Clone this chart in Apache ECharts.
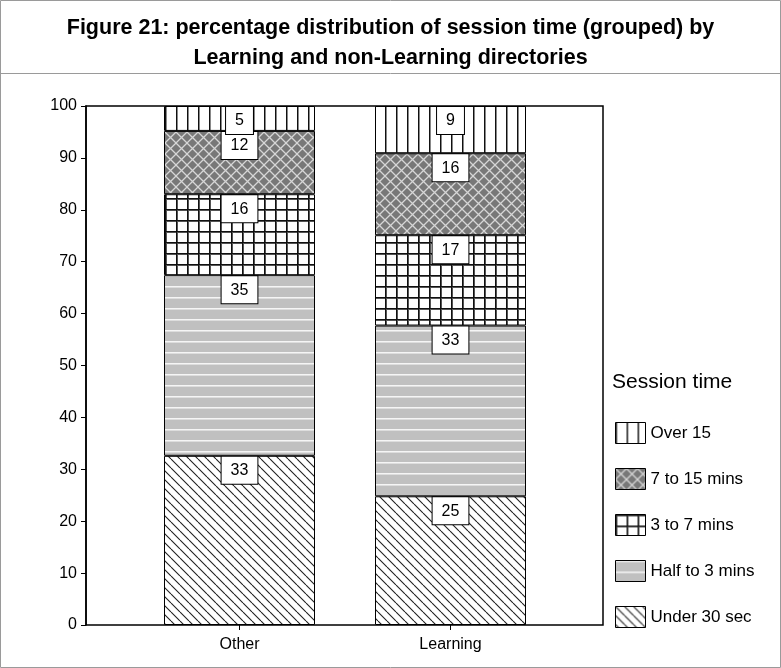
<!DOCTYPE html>
<html>
<head>
<meta charset="utf-8">
<script src="https://cdn.jsdelivr.net/npm/echarts@6/dist/echarts.min.js"></script>
<style>
html,body{margin:0;padding:0;background:#fff;}
#chart{width:781px;height:668px;}
</style>
</head>
<body>
<div id="chart"></div>
<script>
// ---- data ----
const categories = ['Other', 'Learning'];
const seriesNames = ['Under 30 sec', 'Half to 3 mins', '3 to 7 mins', '7 to 15 mins', 'Over 15'];
const under30 = [32.6, 24.8];
const halfTo3 = [34.8, 32.9];
const threeTo7 = [15.6, 17.4];
const sevenTo15 = [12.2, 15.8];
const over15 = [4.8, 9.1];
const yTicks = [0, 100, 10]; // min, max, interval

const FONT = '"Liberation Sans", Arial, sans-serif';

function makePattern(w, h, draw) {
  const c = document.createElement('canvas');
  c.width = w; c.height = h;
  const ctx = c.getContext('2d');
  draw(ctx, w, h);
  return { image: c, repeat: 'repeat' };
}
const patVertical = makePattern(11, 4, (ctx, w, h) => {
  ctx.fillStyle = '#fff'; ctx.fillRect(0, 0, w, h);
  ctx.fillStyle = '#111'; ctx.fillRect(0, 0, 1, h);
  ctx.fillStyle = '#888'; ctx.fillRect(1, 0, 1, h);
});
const patDiamond = makePattern(11, 11, (ctx, w, h) => {
  ctx.fillStyle = '#787878'; ctx.fillRect(0, 0, w, h);
  ctx.strokeStyle = '#d6d6d6'; ctx.lineWidth = 1.3;
  ctx.beginPath();
  ctx.moveTo(0, 0); ctx.lineTo(w, h);
  ctx.moveTo(w, 0); ctx.lineTo(0, h);
  ctx.stroke();
});
const patGrid = makePattern(11, 11, (ctx, w, h) => {
  ctx.fillStyle = '#fff'; ctx.fillRect(0, 0, w, h);
  ctx.fillStyle = '#555'; ctx.fillRect(1, 0, 1, h); ctx.fillRect(0, 1, w, 1);
  ctx.fillStyle = '#111'; ctx.fillRect(0, 0, 1, h); ctx.fillRect(0, 0, w, 1);
});
const patHoriz = makePattern(4, 11, (ctx, w, h) => {
  ctx.fillStyle = '#c0c0c0'; ctx.fillRect(0, 0, w, h);
  ctx.fillStyle = '#f5f5f5'; ctx.fillRect(0, 0, w, 1);
  ctx.fillStyle = '#dddddd'; ctx.fillRect(0, 1, w, 1);
});
const patDiag = makePattern(9, 9, (ctx, w, h) => {
  ctx.fillStyle = '#fff'; ctx.fillRect(0, 0, w, h);
  ctx.strokeStyle = '#222'; ctx.lineWidth = 1.1;
  ctx.beginPath();
  for (let k = -2; k <= 2; k++) { ctx.moveTo(k * w, 0); ctx.lineTo(k * w + w, h); }
  ctx.stroke();
});

const seriesData = [under30, halfTo3, threeTo7, sevenTo15, over15];
const patterns = [patDiag, patHoriz, patGrid, patDiamond, patVertical];

const chart = echarts.init(document.getElementById('chart'), null, { renderer: 'canvas' });

const series = seriesNames.map((name, i) => ({
  name: name,
  type: 'bar',
  stack: 'total',
  xAxisIndex: 1,
  yAxisIndex: 1,
  barWidth: 151,
  data: seriesData[i],
  itemStyle: { color: patterns[i], borderColor: '#000', borderWidth: 1 },
  emphasis: { disabled: true },
  label: {
    show: true,
    position: 'insideTop',
    distance: 1,
    formatter: p => String(Math.round(p.value)),
    backgroundColor: '#fff',
    borderColor: '#000',
    borderWidth: 1,
    padding: [6, 9, 5, 9],
    fontSize: 16,
    fontFamily: FONT,
    color: '#000'
  }
}));

chart.setOption({
  animation: false,
  backgroundColor: '#fff',
  title: [{
    text: 'Figure 21: percentage distribution of session time (grouped) by\nLearning and non-Learning directories',
    left: 'center',
    top: 8,
    textStyle: { fontFamily: FONT, fontSize: 21.5, fontWeight: 'bold', color: '#000', lineHeight: 30 }
  }, {
    text: 'Session time',
    left: 607,
    top: 367,
    textStyle: { fontFamily: FONT, fontSize: 21, fontWeight: 'normal', color: '#000' }
  }],
  legend: {
    orient: 'vertical',
    left: 610,
    top: 417,
    icon: 'rect',
    itemWidth: 30,
    itemHeight: 21,
    itemGap: 24,
    data: seriesNames.slice().reverse(),
    itemStyle: { borderColor: '#000', borderWidth: 1 },
    textStyle: { fontFamily: FONT, fontSize: 17, color: '#000' },
    selectedMode: false
  },
  grid: [
    { left: 86, right: 178, top: 106, bottom: 43, show: true, borderColor: '#000', borderWidth: 1.5, backgroundColor: 'transparent' },
    { left: 134, right: 225, top: 106, bottom: 43 }
  ],
  xAxis: [
    { gridIndex: 0, type: 'category', data: categories, show: false },
    {
      gridIndex: 1, type: 'category', data: categories,
      axisLine: { show: false },
      axisTick: { show: true, alignWithLabel: true, length: 5, lineStyle: { color: '#000', width: 1 } },
      axisLabel: { fontFamily: FONT, fontSize: 16, color: '#000', margin: 12 }
    }
  ],
  yAxis: [
    {
      gridIndex: 0, type: 'value', min: yTicks[0], max: yTicks[1], interval: yTicks[2],
      axisLine: { show: true, lineStyle: { color: '#000', width: 1.5 } },
      axisTick: { show: true, length: 5, lineStyle: { color: '#000', width: 1 } },
      axisLabel: { fontFamily: FONT, fontSize: 16, color: '#000', margin: 9 },
      splitLine: { show: false }
    },
    { gridIndex: 1, type: 'value', min: yTicks[0], max: yTicks[1], interval: yTicks[2], show: false, splitLine: { show: false } }
  ],
  graphic: [
    { type: 'rect', shape: { x: 0.5, y: 0.5, width: 780, height: 667 }, style: { fill: 'none', stroke: '#9a9a9a', lineWidth: 1 }, silent: true },
    { type: 'line', shape: { x1: 0, y1: 73.5, x2: 781, y2: 73.5 }, style: { stroke: '#9a9a9a', lineWidth: 1 }, silent: true }
  ],
  series: series
});
</script>
</body>
</html>
